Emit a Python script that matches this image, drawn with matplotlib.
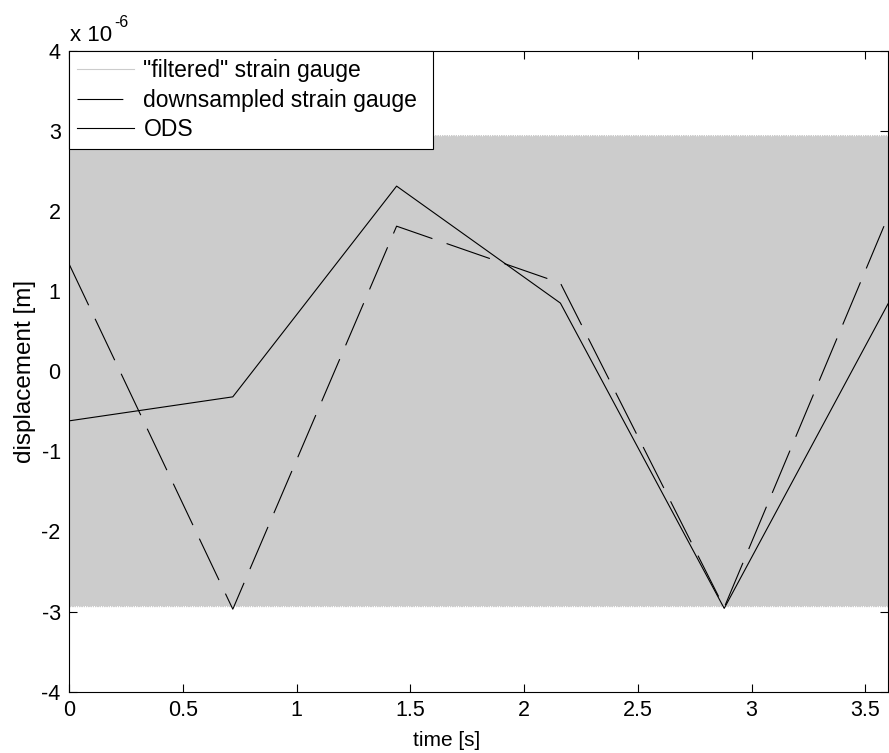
import numpy as np
import matplotlib
matplotlib.use("Agg")
import matplotlib.pyplot as plt

plt.rcParams['font.family'] = ['Liberation Sans', 'DejaVu Sans']
plt.rcParams['lines.scale_dashes'] = False

# ---- data ----
# "filtered" strain gauge: steady sinusoid (amplitude read from band edges)
gauge_amplitude = 2.97e-6
gauge_sample_rate = 2000.0     # Hz
gauge_frequency = 900.0        # Hz
gauge_phase_deg = -8.0
gauge_duration = 3.6           # s

# downsampled strain gauge
down_t = [0.0, 0.72, 1.44, 2.16, 2.88, 3.6]
down_y = [1.34e-6, -2.97e-6, 1.81e-6, 1.10e-6, -2.95e-6, 1.93e-6]

# ODS
ods_t = [0.0, 0.72, 1.44, 2.16, 2.88, 3.6]
ods_y = [-0.62e-6, -0.32e-6, 2.31e-6, 0.85e-6, -2.96e-6, 0.84e-6]

xticks = [0, 0.5, 1, 1.5, 2, 2.5, 3, 3.5]
xtick_labels = ['0', '0.5', '1', '1.5', '2', '2.5', '3', '3.5']
yticks = [-4, -3, -2, -1, 0, 1, 2, 3, 4]
ytick_labels = ['-4', '-3', '-2', '-1', '0', '1', '2', '3', '4']
labels = ['"filtered" strain gauge', 'downsampled strain gauge', 'ODS']

FS = 15.5

# ---- figure ----
fig = plt.figure(figsize=(8.89, 7.53), dpi=100)
ax = fig.add_axes([69/889, 1-691.7/753, (888-69)/889, (691.7-50.7)/753])

n = int(round(gauge_duration * gauge_sample_rate)) + 1
t = np.arange(n) / gauge_sample_rate
y = gauge_amplitude * np.sin(2*np.pi*gauge_frequency*t + np.deg2rad(gauge_phase_deg))

scale = 1e6
ax.plot(t, y*scale, color='#cccccc', lw=0.8, label=labels[0])
ax.plot(down_t, np.array(down_y)*scale, color='black', lw=0.8,
        dashes=(33, 10.8), label=labels[1])
ax.plot(ods_t, np.array(ods_y)*scale, color='black', lw=0.8, label=labels[2])

ax.set_xlim(0, 3.6)
ax.set_ylim(-4, 4)
ax.set_xticks(xticks)
ax.set_xticklabels(xtick_labels)
ax.set_yticks(yticks)
ax.set_yticklabels(ytick_labels)
ax.tick_params(direction='in', length=6, width=0.8, top=True, right=True,
               labelsize=FS, pad=6)
for s in ax.spines.values():
    s.set_linewidth(0.8)

ax.set_xlabel('time [s]', fontsize=15)
ax.xaxis.set_label_coords((447-69)/819, -0.062)
ax.set_ylabel('displacement [m]', fontsize=17.5, labelpad=4)

t1 = ax.text(0.0015, 1.008, 'x 10', transform=ax.transAxes, fontsize=16,
             ha='left', va='bottom')

leg = ax.legend(loc='upper left', fontsize=16.5, frameon=True, fancybox=False,
                edgecolor='black', framealpha=1, borderaxespad=0,
                bbox_to_anchor=(0, 0, (433-69)/(888-69), 1), mode='expand',
                handlelength=2.5, handletextpad=0.4, labelspacing=0.3,
                borderpad=0.35)
leg.get_frame().set_linewidth(0.8)

fig.canvas.draw()
bb = t1.get_window_extent()
fig.text((bb.x1 + 2)/fig.bbox.width, (bb.y1 - 5)/fig.bbox.height, '-6',
         fontsize=11.5, ha='left', va='bottom')

fig.savefig('out.png', dpi=100)
